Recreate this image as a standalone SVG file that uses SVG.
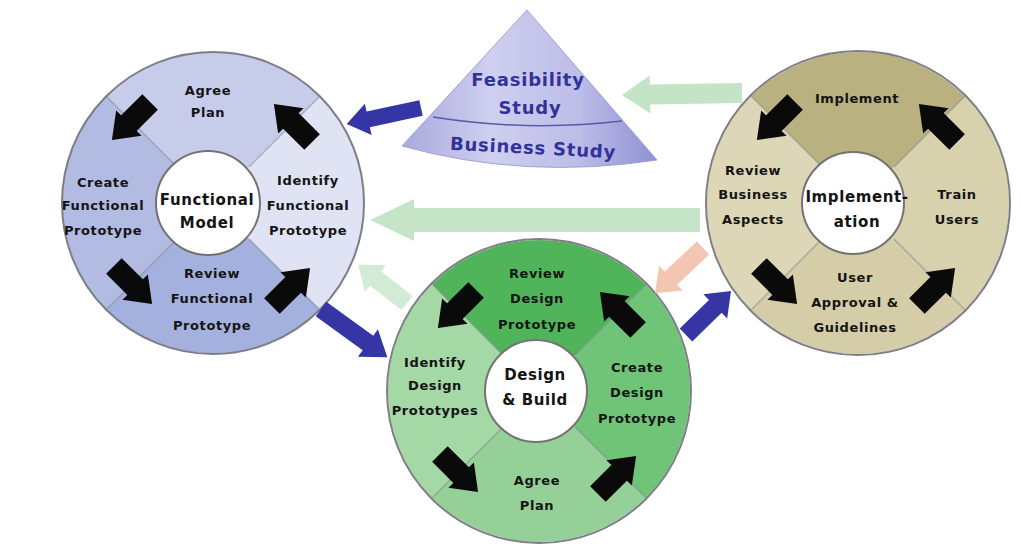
<svg xmlns="http://www.w3.org/2000/svg" xmlns:xlink="http://www.w3.org/1999/xlink" width="1021" height="547" viewBox="0 0 1021 547">
  <style>
    .lbl { font-family: "DejaVu Sans", "Liberation Sans", sans-serif; font-weight: bold; font-size: 13px; letter-spacing: 0.6px; fill: #141414; text-anchor: middle; }
    .hub { font-family: "DejaVu Sans", "Liberation Sans", sans-serif; font-weight: bold; font-size: 15px; letter-spacing: 0.6px; fill: #141414; text-anchor: middle; }
    .cone { font-family: "DejaVu Sans", "Liberation Sans", sans-serif; font-weight: bold; font-size: 18px; letter-spacing: 0.8px; fill: #32329a; text-anchor: middle; }
    .rim { stroke: #7d7e86; stroke-width: 2; fill: none; }
    .div { stroke: #6f7080; stroke-opacity: 0.45; stroke-width: 1.5; }
    .core { fill: #ffffff; stroke: #737373; stroke-width: 2; }
  </style>
  <defs>
    <!-- quarter sectors of a wheel, radius 151, centred on 0,0 -->
    <path id="qT" d="M0,0 L-106.8,-106.8 A151,151 0 0,1 106.8,-106.8 Z"/>
    <path id="qR" d="M0,0 L106.8,-106.8 A151,151 0 0,1 106.8,106.8 Z"/>
    <path id="qB" d="M0,0 L106.8,106.8 A151,151 0 0,1 -106.8,106.8 Z"/>
    <path id="qL" d="M0,0 L-106.8,106.8 A151,151 0 0,1 -106.8,-106.8 Z"/>
    <!-- black step arrow, pointing along +x -->
    <path id="step" d="M-27,-11 L3,-11 L3,-18 L27,0 L3,18 L3,11 L-27,11 Z" fill="#0a0a0a"/>
    <!-- wheel furniture shared by all three phases -->
    <g id="spokes">
      <line class="div" x1="-36" y1="-36" x2="-106.8" y2="-106.8"/>
      <line class="div" x1="36" y1="-36" x2="106.8" y2="-106.8"/>
      <line class="div" x1="36" y1="36" x2="106.8" y2="106.8"/>
      <line class="div" x1="-36" y1="36" x2="-106.8" y2="106.8"/>
    </g>
    <g id="steps">
      <use xlink:href="#step" transform="translate(-82,-82) rotate(135)"/>
      <use xlink:href="#step" transform="translate(80,-80) rotate(-135)"/>
      <use xlink:href="#step" transform="translate(78,84) rotate(-45)"/>
      <use xlink:href="#step" transform="translate(-80,82) rotate(45)"/>
    </g>
    <linearGradient id="coneFill" x1="0" y1="0" x2="1" y2="0">
      <stop offset="0" stop-color="#a9a9dd"/>
      <stop offset="0.35" stop-color="#cfcff0"/>
      <stop offset="0.7" stop-color="#bcbce8"/>
      <stop offset="1" stop-color="#9090d2"/>
    </linearGradient>
  </defs>

  <rect width="1021" height="547" fill="#ffffff"/>

  <!-- Feasibility / Business study cone -->
  <g id="cone">
    <path d="M527,10 L402,146 Q525,180 657,160 Z" fill="url(#coneFill)" stroke="#a0a0d4" stroke-width="1"/>
    <path d="M433,117 Q528,132 622,121" fill="none" stroke="#5a5aa8" stroke-width="1.5"/>
    <text class="cone" x="528" y="86">Feasibility</text>
    <text class="cone" x="530" y="114">Study</text>
    <text class="cone" x="533" y="154" transform="rotate(3 533 148)">Business Study</text>
  </g>

  <!-- Functional Model wheel -->
  <g id="functional-model" transform="translate(213,203)">
    <use xlink:href="#qT" fill="#c7cceb"/>
    <use xlink:href="#qR" fill="#dfe3f4"/>
    <use xlink:href="#qB" fill="#a4b1de"/>
    <use xlink:href="#qL" fill="#b2bbe2"/>
    <circle class="rim" r="151"/>
    <use xlink:href="#spokes"/>
    <circle class="core" cx="-5" r="52"/>
    <use xlink:href="#steps"/>
    <text class="lbl" x="-5" y="-108">Agree</text>
    <text class="lbl" x="-5" y="-86">Plan</text>
    <text class="lbl" x="-110" y="-16">Create</text>
    <text class="lbl" x="-110" y="7">Functional</text>
    <text class="lbl" x="-110" y="32">Prototype</text>
    <text class="lbl" x="95" y="-18">Identify</text>
    <text class="lbl" x="95" y="7">Functional</text>
    <text class="lbl" x="95" y="32">Prototype</text>
    <text class="lbl" x="-1" y="75">Review</text>
    <text class="lbl" x="-1" y="100">Functional</text>
    <text class="lbl" x="-1" y="127">Prototype</text>
    <text class="hub" x="-6" y="2">Functional</text>
    <text class="hub" x="-6" y="25">Model</text>
  </g>

  <!-- Implementation wheel -->
  <g id="implementation" transform="translate(858,203)">
    <use xlink:href="#qT" fill="#b9b180"/>
    <use xlink:href="#qR" fill="#d8d1ad"/>
    <use xlink:href="#qB" fill="#d5cda7"/>
    <use xlink:href="#qL" fill="#ddd6b7"/>
    <circle class="rim" r="152"/>
    <use xlink:href="#spokes"/>
    <circle class="core" cx="-5" r="51"/>
    <use xlink:href="#steps"/>
    <text class="lbl" x="-1" y="-100">Implement</text>
    <text class="lbl" x="-105" y="-28">Review</text>
    <text class="lbl" x="-105" y="-4">Business</text>
    <text class="lbl" x="-105" y="21">Aspects</text>
    <text class="lbl" x="99" y="-4">Train</text>
    <text class="lbl" x="99" y="21">Users</text>
    <text class="lbl" x="-3" y="79">User</text>
    <text class="lbl" x="-3" y="104">Approval &amp;</text>
    <text class="lbl" x="-3" y="129">Guidelines</text>
    <text class="hub" x="-1" y="-1">Implement-</text>
    <text class="hub" x="-1" y="24">ation</text>
  </g>

  <!-- Design & Build wheel -->
  <g id="design-build" transform="translate(539,391)">
    <use xlink:href="#qT" fill="#4fb45a"/>
    <use xlink:href="#qR" fill="#6fc477"/>
    <use xlink:href="#qB" fill="#94d097"/>
    <use xlink:href="#qL" fill="#a4d8a5"/>
    <circle class="rim" r="152"/>
    <use xlink:href="#spokes"/>
    <circle class="core" cx="-3" r="51"/>
    <use xlink:href="#steps"/>
    <text class="lbl" x="-2" y="-113">Review</text>
    <text class="lbl" x="-2" y="-88">Design</text>
    <text class="lbl" x="-2" y="-62">Prototype</text>
    <text class="lbl" x="-104" y="-24">Identify</text>
    <text class="lbl" x="-104" y="-1">Design</text>
    <text class="lbl" x="-104" y="24">Prototypes</text>
    <text class="lbl" x="98" y="-19">Create</text>
    <text class="lbl" x="98" y="6">Design</text>
    <text class="lbl" x="98" y="32">Prototype</text>
    <text class="lbl" x="-2" y="94">Agree</text>
    <text class="lbl" x="-2" y="119">Plan</text>
    <text class="hub" x="-4" y="-11">Design</text>
    <text class="hub" x="-4" y="14">&amp; Build</text>
  </g>

  <!-- flow between phases -->
  <g id="connectors">
    <path d="M0,-12 L286,-12 L286,-21 L330,0 L286,21 L286,12 L0,12 Z" fill="#c6e5c8" transform="translate(700,220) rotate(180)"/>
    <path d="M0,-10 L92,-10 L92,-19 L120,0 L92,19 L92,10 L0,10 Z" fill="#c3e5c6" transform="translate(742,93) rotate(179)"/>
    <path d="M0,-8 L54,-8 L54,-16 L76,0 L54,16 L54,8 L0,8 Z" fill="#3535a6" transform="translate(421,108) rotate(167.8)"/>
    <path d="M0,-9 L40,-9 L40,-17 L62,0 L40,17 L40,9 L0,9 Z" fill="#d3ebd4" transform="translate(407,303) rotate(218)"/>
    <path d="M0,-9 L58,-9 L58,-17 L82,0 L58,17 L58,9 L0,9 Z" fill="#3535a6" transform="translate(321,309) rotate(36)"/>
    <path d="M0,-9 L44,-9 L44,-17 L66,0 L44,17 L44,9 L0,9 Z" fill="#f2c6b2" transform="translate(703,248) rotate(136.8)"/>
    <path d="M0,-9 L41,-9 L41,-17 L63,0 L41,17 L41,9 L0,9 Z" fill="#3535a6" transform="translate(686,335) rotate(-44.4)"/>
  </g>
</svg>
